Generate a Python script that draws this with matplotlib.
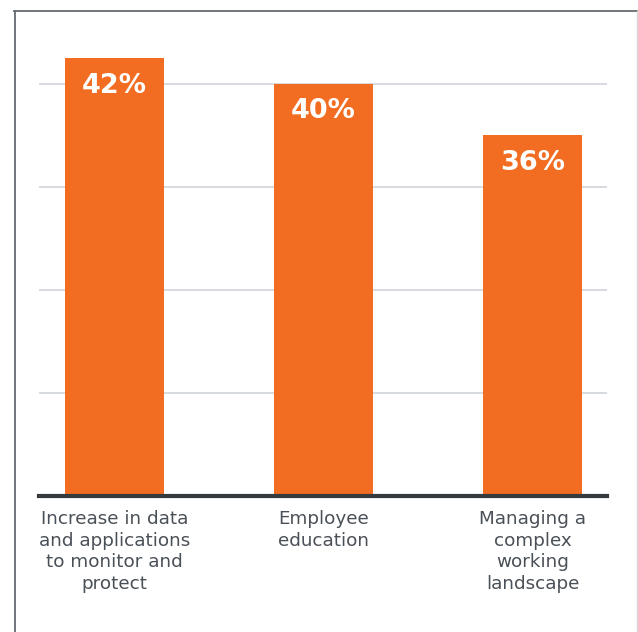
import numpy as np
import matplotlib.pyplot as plt
from matplotlib.lines import Line2D

categories = ["Increase in data\nand applications\nto monitor and\nprotect",
              "Employee\neducation",
              "Managing a\ncomplex\nworking\nlandscape"]
values = [42, 40, 36]
grid_vals = [16, 24, 32, 40]

W, H = 638, 632
fig = plt.figure(figsize=(W / 100, H / 100), dpi=100)

# axes placed in pixel terms
left, right, bottom, top = 39, 607, 496, 32
ax = fig.add_axes([left / W, 1 - bottom / H, (right - left) / W, (bottom - top) / H])

x = np.arange(len(values))
bars = ax.bar(x, values, width=0.474, color="#f26d21", zorder=3)
ax.set_xlim(-0.361, 2.356)
ax.set_ylim(8, 44)

for v in grid_vals:
    ax.axhline(v, color="#d3d7db", lw=1.3, zorder=1)
ax.axhline(8, color="#343a3e", lw=3, zorder=4, clip_on=False)

for b, v in zip(bars, values):
    ax.annotate(f"{v}%", (b.get_x() + b.get_width() / 2, v), xytext=(0, -20),
                textcoords="offset points", ha="center", va="center",
                color="white", fontsize=19.5, fontweight="bold", zorder=5)

ax.set_xticks(x)
ax.set_xticklabels(categories, fontsize=13.2, color="#4a5057", linespacing=1.27)
ax.tick_params(axis="x", length=0, pad=10)
ax.set_yticks([])
for s in ax.spines.values():
    s.set_visible(False)

# outer frame: dark left/top, pale right edge
fig.add_artist(Line2D([14.5 / W, 14.5 / W], [0, 1 - 11 / H], color="#646b72", lw=1.3))
fig.add_artist(Line2D([14 / W, 637 / W], [1 - 11 / H, 1 - 11 / H], color="#646b72", lw=1.3))
fig.add_artist(Line2D([636.5 / W, 636.5 / W], [0, 1 - 11 / H], color="#d8d8d8", lw=1))

fig.savefig("out.png", dpi=100)
